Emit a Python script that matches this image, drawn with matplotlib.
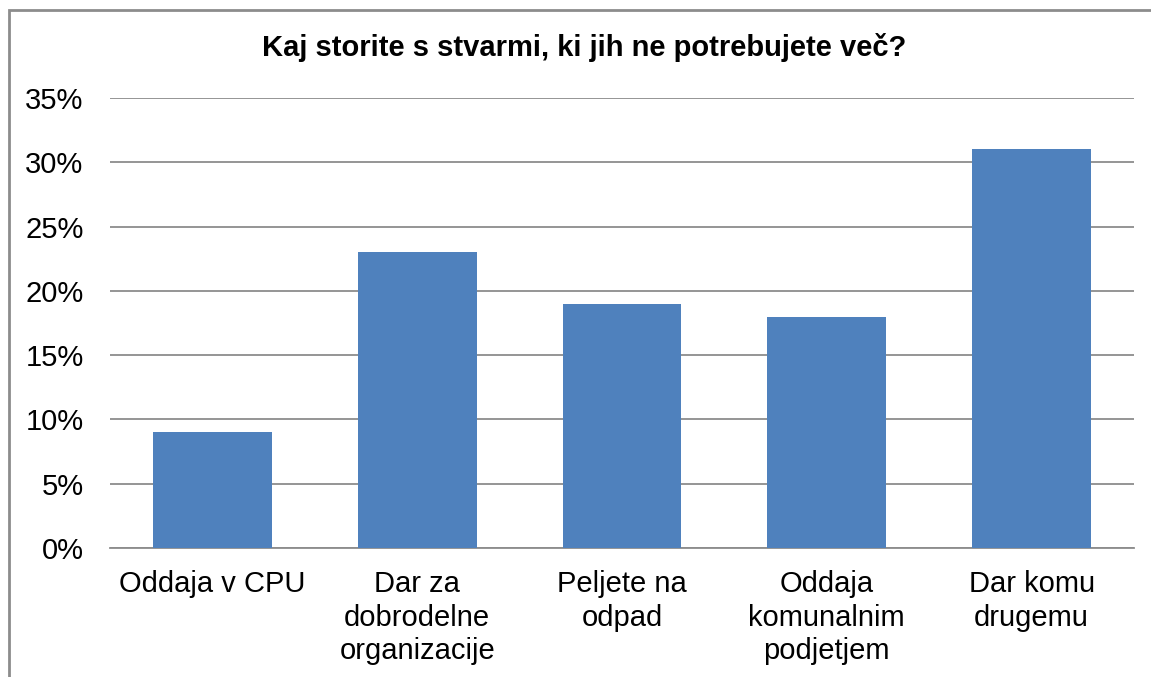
import matplotlib.pyplot as plt
from matplotlib.patches import Rectangle
from matplotlib.ticker import FuncFormatter

plt.rcParams['font.family'] = ['Liberation Sans', 'DejaVu Sans']

# data
categories = ['Oddaja v CPU', 'Dar za\ndobrodelne\norganizacije', 'Peljete na\nodpad',
              'Oddaja\nkomunalnim\npodjetjem', 'Dar komu\ndrugemu']
values = [0.09, 0.23, 0.19, 0.18, 0.31]
title = 'Kaj storite s stvarmi, ki jih ne potrebujete več?'

W, H = 1151, 677
fig = plt.figure(figsize=(W / 100, H / 100), dpi=100)
ax = fig.add_axes([110 / W, 1 - 548 / H, (1134 - 110) / W, (548 - 98) / H])

x = range(len(categories))
ax.bar(x, values, width=0.58, color='#4F81BD', zorder=3)

ax.set_xlim(-0.5, len(categories) - 0.5)
ax.set_ylim(0, 0.35)
ax.set_yticks([i * 0.05 for i in range(8)])
ax.yaxis.set_major_formatter(FuncFormatter(lambda v, p: f'{round(v * 100)}%'))
ax.set_xticks(list(x))
ax.set_xticklabels(categories, fontsize=21, linespacing=1.25)
ax.tick_params(axis='y', labelsize=21, length=0, pad=19)
ax.tick_params(axis='x', length=0, pad=16)

ax.grid(axis='y', color='#8c8c8c', linewidth=1.3, zorder=0)
for s in ['top', 'right', 'left']:
    ax.spines[s].set_visible(False)
ax.spines['bottom'].set_color('#8c8c8c')
ax.spines['bottom'].set_linewidth(1.3)

fig.text(584 / W, 1 - 48 / H, title, ha='center', va='center',
         fontsize=21, fontweight='bold')

# outer chart frame (cut off at right and bottom)
frame = Rectangle((8.5 / W, -0.1), 1.2, 1 - 9.5 / H + 0.1, transform=fig.transFigure,
                  fill=False, edgecolor='#8c8c8c', linewidth=2, clip_on=False)
fig.patches.append(frame)

fig.savefig('out.png', dpi=100)
